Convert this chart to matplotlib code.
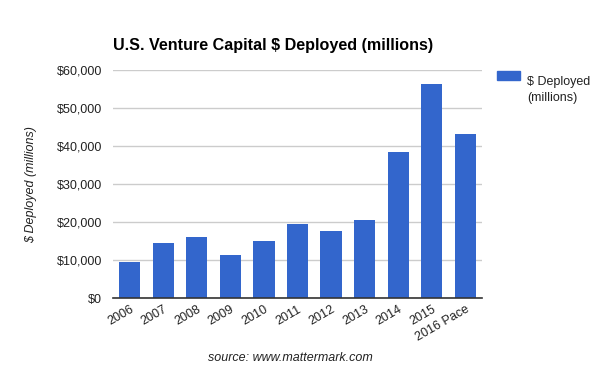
import matplotlib.pyplot as plt
from matplotlib.ticker import FuncFormatter
from matplotlib.patches import Rectangle

plt.rcParams['font.family'] = ['Liberation Sans', 'DejaVu Sans']

years = ['2006', '2007', '2008', '2009', '2010', '2011', '2012', '2013', '2014', '2015', '2016 Pace']
deployed = [9600, 14600, 16150, 11400, 15100, 19550, 17700, 20650, 38500, 56400, 43250]
yticks = [0, 10000, 20000, 30000, 40000, 50000, 60000]

fig = plt.figure(figsize=(5.98, 3.69), dpi=100)
ax = fig.add_axes([0.189, 0.1916, 0.617, 0.618])

x = range(len(years))
ax.bar(x, deployed, width=0.63, color='#3366cc', zorder=3)

ax.set_xlim(-0.5, len(years) - 0.5)
ax.set_ylim(0, 60000)
ax.set_yticks(yticks)
ax.yaxis.set_major_formatter(FuncFormatter(lambda v, p: '${:,.0f}'.format(v)))
ax.grid(axis='y', color='#cccccc', linewidth=1, zorder=0)
ax.set_axisbelow(True)

for s in ['top', 'right', 'left']:
    ax.spines[s].set_visible(False)
ax.spines['bottom'].set_color('#333333')
ax.spines['bottom'].set_linewidth(1.2)
ax.spines['bottom'].set_zorder(4)

ax.tick_params(axis='both', length=0, labelsize=9, colors='#222222')
ax.tick_params(axis='y', pad=8)
ax.set_xticks(list(x))
ax.set_xticklabels(years, rotation=30, ha='right', rotation_mode='anchor')

ax.set_ylabel('$ Deployed (millions)', fontsize=9, style='italic', color='#222222', labelpad=14)

fig.text(0.189, 0.877, 'U.S. Venture Capital $ Deployed (millions)', fontsize=11.6,
         fontweight='bold', ha='left', va='center', color='#000000')
fig.text(0.485, 0.03, 'source: www.mattermark.com', fontsize=9, style='italic',
         ha='center', va='center', color='#222222')

# legend
fig.patches.append(Rectangle((497 / 598, 1 - 80 / 369), 23 / 598, 9 / 369,
                             transform=fig.transFigure, color='#3366cc'))
fig.text(527 / 598, 1 - 76 / 369, '$ Deployed\n(millions)', fontsize=9,
         ha='left', va='top', color='#222222', linespacing=1.4)

fig.savefig('out.png', dpi=100)
